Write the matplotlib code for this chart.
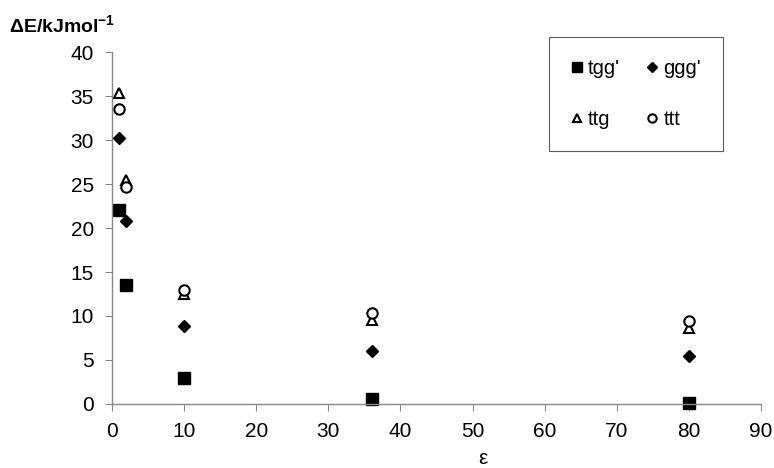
import matplotlib
matplotlib.use("Agg")
import matplotlib.pyplot as plt

plt.rcParams['font.family'] = ['Liberation Sans', 'DejaVu Sans']
plt.rcParams['mathtext.fontset'] = 'custom'
plt.rcParams['mathtext.rm'] = 'Liberation Sans'
plt.rcParams['mathtext.bf'] = 'Liberation Sans:bold'

eps = [1, 2, 10, 36, 80]
tgg = [22.0, 13.5, 3.0, 0.6, 0.1]
ggg = [30.2, 20.8, 8.9, 6.0, 5.4]
ttg = [35.3, 25.4, 12.5, 9.5, 8.6]
ttt = [33.5, 24.7, 13.0, 10.3, 9.4]

fig = plt.figure(figsize=(7.74, 4.68), dpi=100)
ax = fig.add_axes([0.1447, 0.1368, 0.8385, 0.752])

h1, = ax.plot(eps, tgg, 's', color='black', ms=8.5, label="tgg'", clip_on=False)
h2, = ax.plot(eps, ggg, 'D', color='black', ms=6.5, label="ggg'", clip_on=False)
h3, = ax.plot(eps, ttg, '^', mfc='white', mec='black', mew=1.5, ms=7.5, label="ttg", clip_on=False)
h4, = ax.plot(eps, ttt, 'o', mfc='white', mec='black', mew=1.5, ms=7.5, label="ttt", clip_on=False)

ax.set_xlim(0, 90)
ax.set_ylim(0, 40)
ax.set_xticks(range(0, 91, 10))
ax.set_yticks(range(0, 41, 5))
for s in ['top', 'right']:
    ax.spines[s].set_visible(False)
for s in ['left', 'bottom']:
    ax.spines[s].set_color('#888888')
    ax.spines[s].set_linewidth(1)
ax.tick_params(direction='out', length=5, color='#888888', labelsize=15, pad=8)

fig.text(0.012, 0.945, r'$\mathbf{\Delta E/kJmol}^{\mathbf{-1}}$', fontsize=14,
         ha='left', va='center')
fig.text(0.624, 0.0, 'ε', fontsize=15, ha='center', va='bottom')

leg = ax.legend(handles=[h1, h3, h2, h4], ncol=2, loc='upper left',
                bbox_to_anchor=(0.673, 1.043), frameon=True, fancybox=False,
                fontsize=14.5, handletextpad=0.25, columnspacing=1.3,
                labelspacing=1.6, borderpad=1.1, handlelength=0.6,
                borderaxespad=0, markerscale=0.8)
leg.get_frame().set_edgecolor('#333333')
leg.get_frame().set_linewidth(0.8)

fig.savefig('out.png', dpi=100)
